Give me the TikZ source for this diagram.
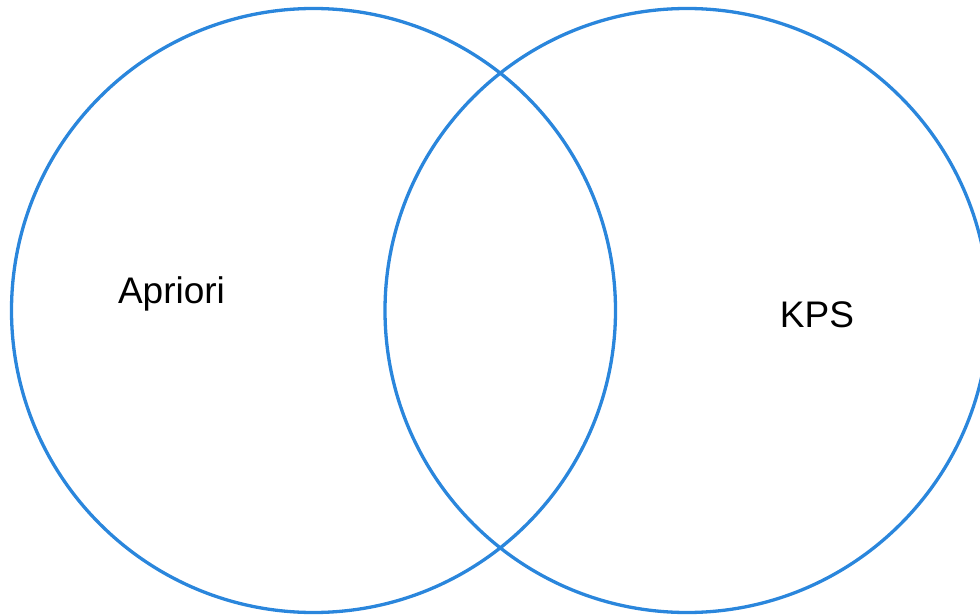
\documentclass[tikz,border=0pt]{standalone}
\usepackage{fontspec}
\setmainfont{Liberation Sans}
\definecolor{vennblue}{RGB}{42,134,220}
\begin{document}
\begin{tikzpicture}[x=1pt,y=-1pt,
  ring/.style={draw=vennblue,line width=3.3pt},
  lbl/.style={font=\fontsize{37}{44}\selectfont,inner sep=0pt}]
\useasboundingbox (0,0) rectangle (980,615);
\begin{scope}
\clip (0,0) rectangle (980,615);
\draw[ring] (313.5,310.5) circle[radius=302];
\draw[ring] (687,310.5) circle[radius=302];
\end{scope}
\node[lbl] (apriori) at (171.5,294) {Apriori};
\node[lbl] (kps) at (817,315) {KPS};
\end{tikzpicture}
\end{document}
